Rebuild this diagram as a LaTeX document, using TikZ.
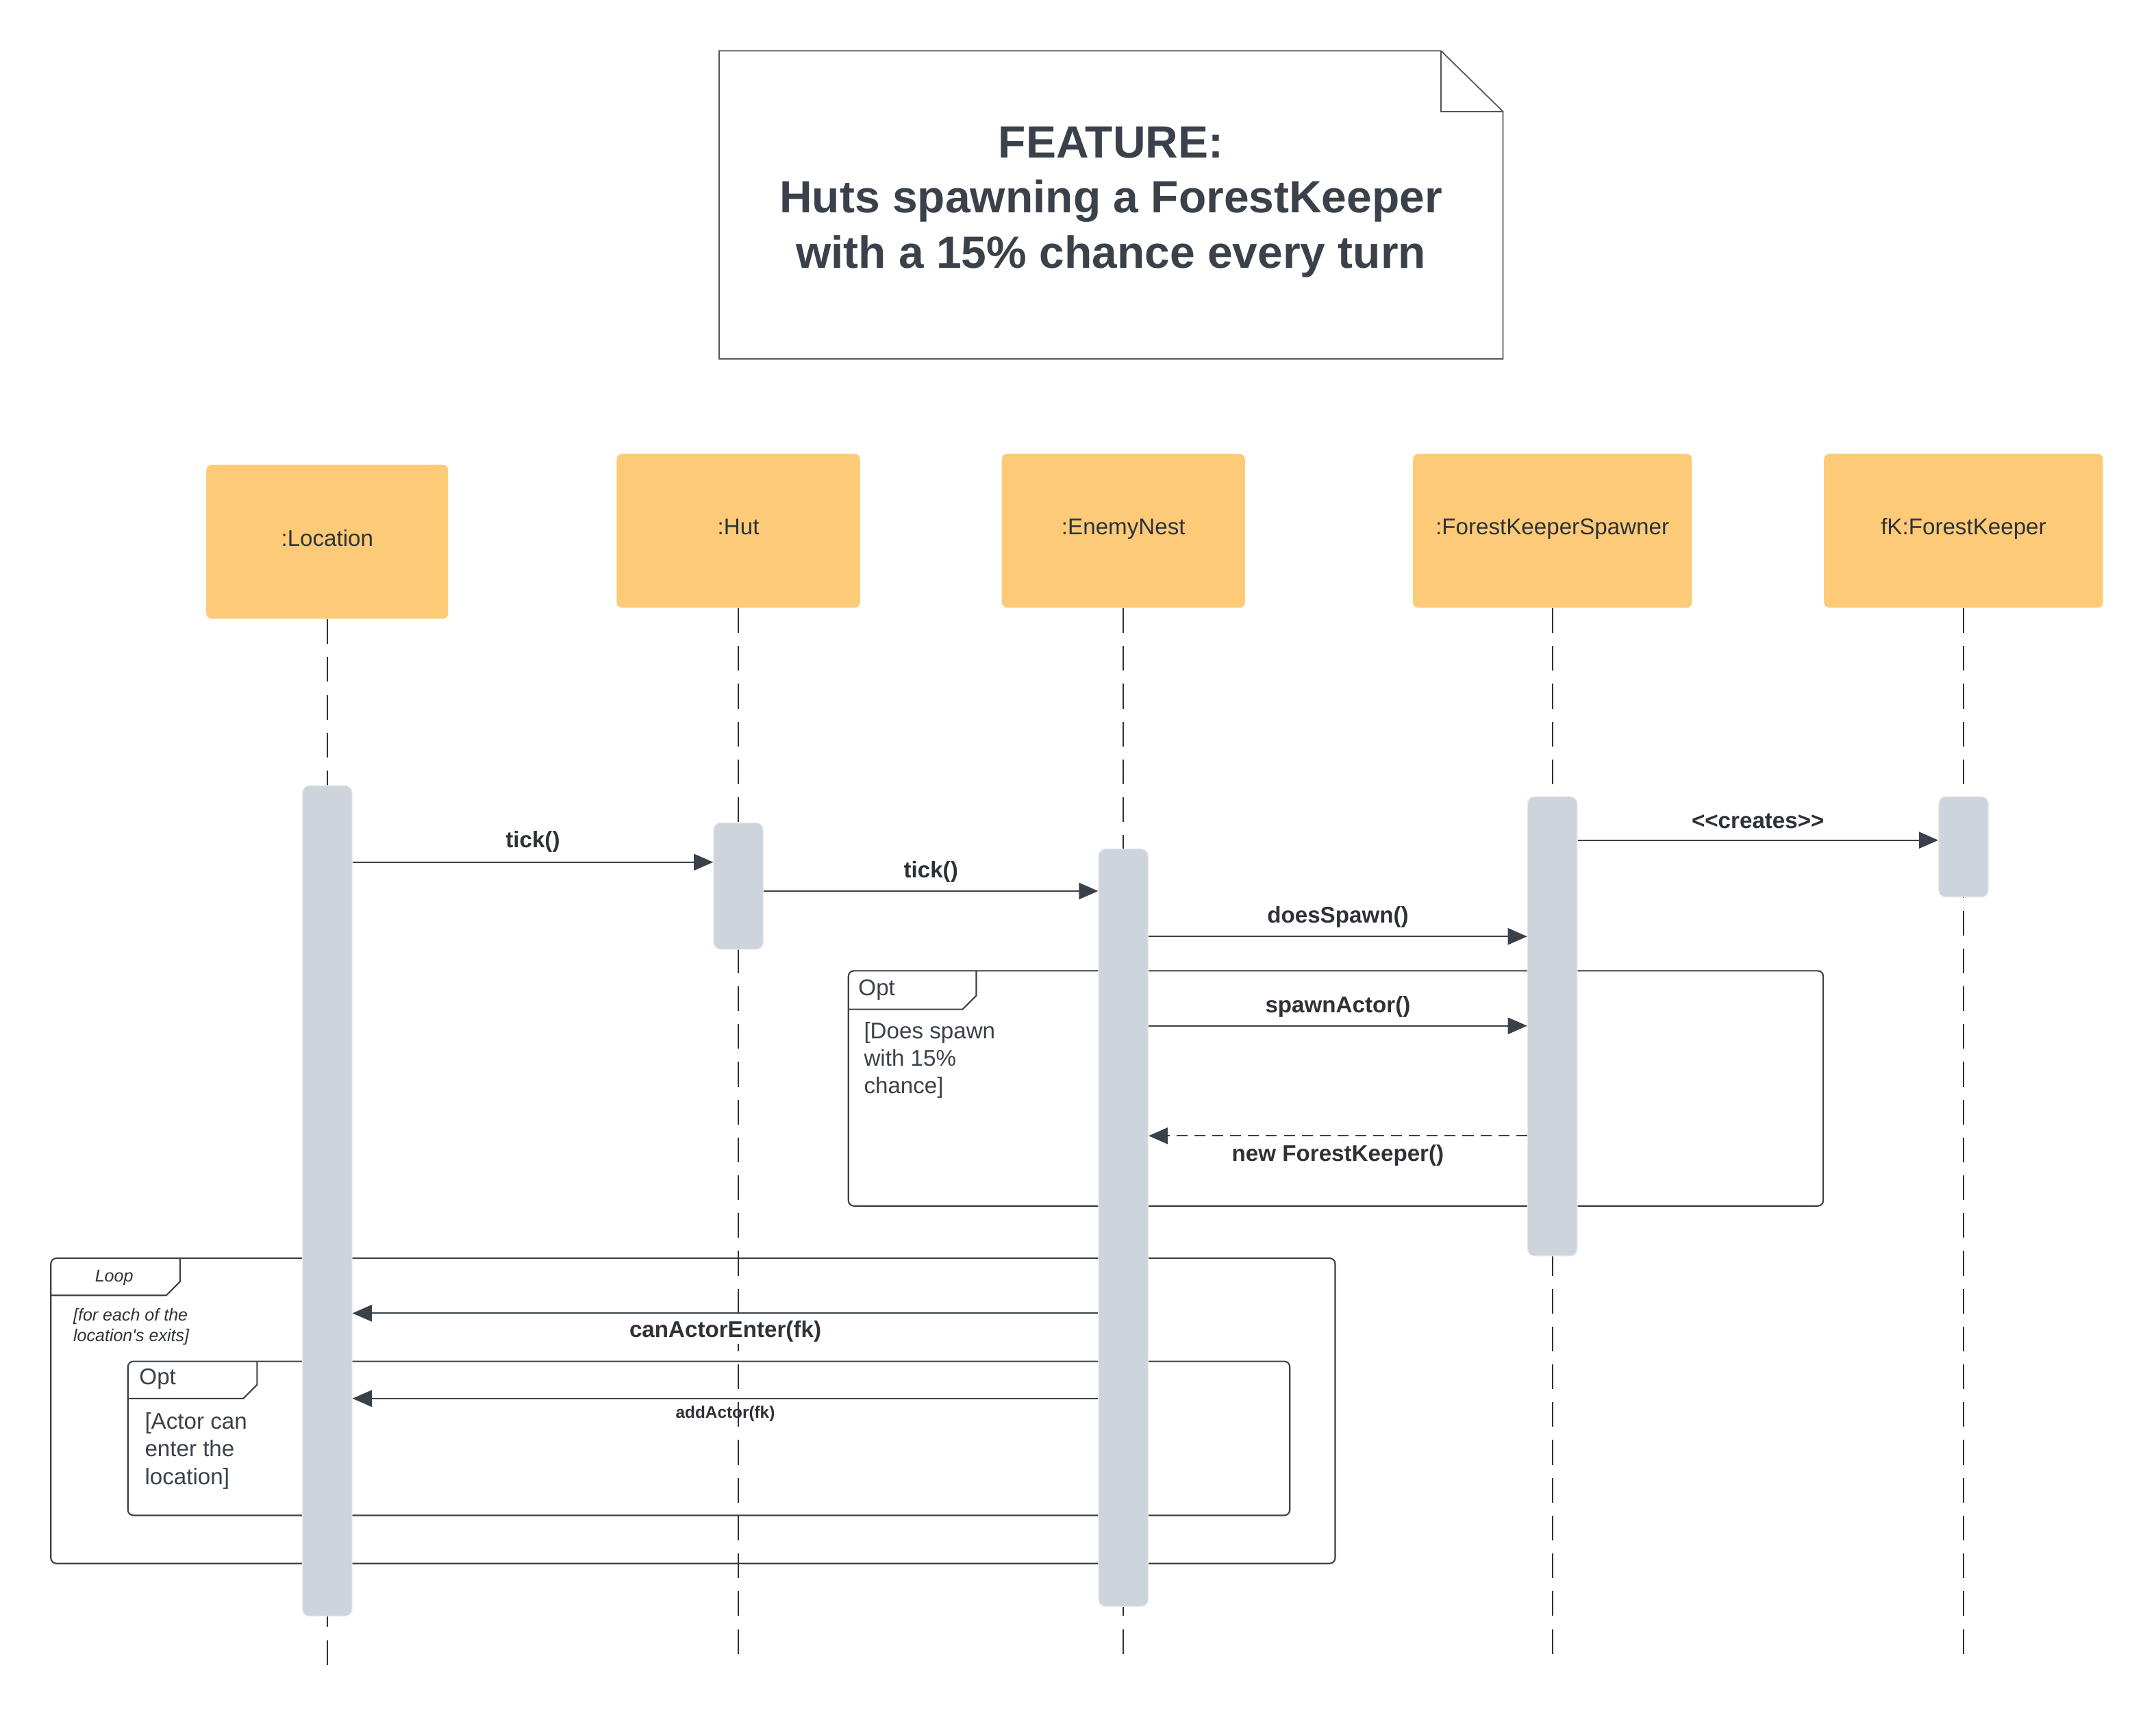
\documentclass[tikz,border=0pt]{standalone}
\usepackage{fontspec}
\setmainfont{Liberation Sans}
\usepackage{tikz}
\usetikzlibrary{arrows.meta, calc}

\definecolor{headfill}{HTML}{FDCB78}
\definecolor{barfill}{HTML}{CED4DC}
\definecolor{barline}{HTML}{E6E9EE}
\definecolor{inkc}{HTML}{3A414A}
\definecolor{textc}{HTML}{2E3238}
\definecolor{notec}{HTML}{50555C}

\tikzset{
    head/.style={rectangle, rounded corners=0.08cm, fill=headfill, minimum height=2.24cm,
        text height=0.25cm, text depth=0.13cm,
        font=\fontsize{9.4}{11.4}\selectfont, text=textc},
    bar/.style={rectangle, rounded corners=0.1cm, fill=barfill, draw=barline, line width=0.4pt,
        minimum width=0.72cm, inner sep=0pt},
    life/.style={textc, line width=0.5pt, dash pattern=on 0.36cm off 0.19cm},
    msg/.style={inkc, line width=0.6pt, -{Triangle[length=0.28cm, width=0.24cm]}},
    reply/.style={msg, dash pattern=on 0.16cm off 0.1cm},
    msglabel/.style={font=\bfseries\fontsize{9.4}{11.4}\selectfont, text=textc, fill=white, inner sep=1pt},
    smalllabel/.style={font=\bfseries\fontsize{6.9}{8}\selectfont, text=textc, inner sep=1pt},
    frame/.style={draw=inkc, line width=0.6pt, rounded corners=0.08cm},
    tab/.style={draw=inkc, line width=0.6pt},
    fragtag/.style={font=\fontsize{9.4}{11.4}\selectfont, text=inkc, inner sep=0pt},
    guard/.style={font=\fontsize{9.4}{11.4}\selectfont, text=inkc, align=left, inner sep=0pt},
    loopguard/.style={font=\itshape\fontsize{7.1}{8.5}\selectfont, text=textc, align=left, inner sep=0pt},
    note/.style={draw=notec, line width=0.5pt},
    titletext/.style={font=\bfseries\fontsize{18.7}{22.8}\selectfont, text=inkc, align=center}
}

\begin{document}
\begin{tikzpicture}[x=0.02cm, y=-0.02cm]
    \useasboundingbox (0,0) rectangle (1568,1255);

    \draw[note] (523,37) -- (1048,37) -- (1093,81) -- (1093,261) -- (523,261) -- cycle;
    \draw[note] (1048,37) -- (1048,81) -- (1093,81);
    \node[titletext] (title) at (808,147) {FEATURE:\\Huts spawning a ForestKeeper\\with a 15\% chance every turn};

    \foreach \n/\x/\y/\w/\t in {loc/238/394/3.52/{:Location}, hut/537/386/3.54/{:Hut},
            nest/817/386/3.54/{:EnemyNest}, spawner/1129/386/4.06/{:ForestKeeperSpawner},
            fk/1428/386/4.06/{fK:ForestKeeper}} {
        \node[head, minimum width=\w cm] (\n) at (\x,\y) {\t};
    }

    \draw[frame] (617,706) rectangle (1326,877);
    \draw[tab] (617,734) -- (700,734) -- (710,724) -- (710,706);
    \node[fragtag, anchor=west] (opt1tag) at (624,720) {Opt};
    \node[guard, anchor=north west] (opt1guard) at (628,743) {[Does spawn\\with 15\%\\chance]};

    \draw[frame] (37,915) rectangle (971,1137);
    \draw[tab] (37,942) -- (121,942) -- (131,932) -- (131,915);
    \node[loopguard] (looptag) at (83,929) {Loop};
    \node[loopguard, anchor=north west] (loopguardtext) at (53,951) {[for each of the\\location\textquotesingle s exits]};

    \draw[frame] (93,990) rectangle (938,1102);
    \draw[tab] (93,1017) -- (177,1017) -- (187,1007) -- (187,990);
    \node[fragtag, anchor=west] (opt2tag) at (101,1003) {Opt};
    \node[guard, anchor=north west] (opt2guard) at (105,1027) {[Actor can\\enter the\\location]};

    \foreach \n/\x/\e in {loc/238/1217, hut/537/1210, nest/817/1210, spawner/1129/1210, fk/1428/1210} {
        \coordinate (\n-end) at (\x,\e);
        \draw[life] (\n.south) -- (\n-end);
    }

    \foreach \n/\x/\t/\h in {locbar/238/571/12.08, hutbar/537/598/1.84, nestbar/817/617/11.02,
            spawnbar/1129/579/6.68, fkbar/1428/579/1.46} {
        \node[bar, minimum height=\h cm, anchor=north] (\n) at (\x,\t) {};
    }

    \foreach \m/\y in {m1/627, m2/648, m3/611, m4/681, m5/746, m6/826, m7/955, m8/1017} {
        \coordinate (\m) at (0,\y);
    }

    \draw[msg] (locbar.east |- m1) -- (hutbar.west |- m1) node[midway, yshift=0.30cm, msglabel] (tick1) {tick()};
    \draw[msg] (hutbar.east |- m2) -- (nestbar.west |- m2) node[midway, yshift=0.28cm, msglabel] (tick2) {tick()};
    \draw[msg] (spawnbar.east |- m3) -- (fkbar.west |- m3) node[midway, yshift=0.28cm, msglabel] (creates) {<{}<creates>{}>};
    \draw[msg] (nestbar.east |- m4) -- (spawnbar.west |- m4) node[midway, yshift=0.28cm, msglabel] (doesspawn) {doesSpawn()};
    \draw[msg] (nestbar.east |- m5) -- (spawnbar.west |- m5) node[midway, yshift=0.28cm, msglabel] (spawnactor) {spawnActor()};
    \draw[reply] (spawnbar.west |- m6) -- (nestbar.east |- m6) node[midway, yshift=-0.28cm, msglabel] (newfk) {new ForestKeeper()};
    \draw[msg] (nestbar.west |- m7) -- (locbar.east |- m7) node[midway, yshift=-0.26cm, msglabel] (canenter) {canActorEnter(fk)};
    \draw[msg] (nestbar.west |- m8) -- (locbar.east |- m8) node[midway, yshift=-0.22cm, smalllabel] (addactor) {addActor(fk)};

\end{tikzpicture}
\end{document}
